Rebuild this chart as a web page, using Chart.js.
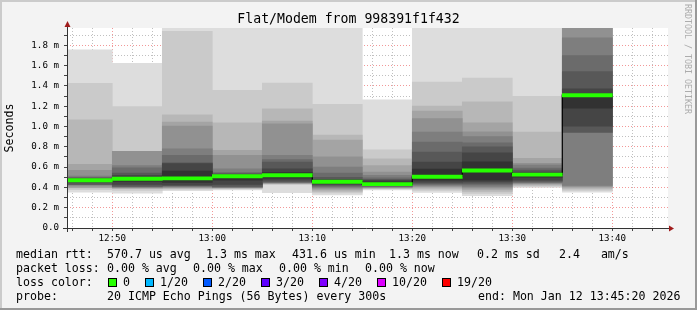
<!DOCTYPE html>
<html lang="en">
<head>
<meta charset="UTF-8">
<title>Flat/Modem from 998391f1f432</title>
<script src="https://cdn.jsdelivr.net/npm/chart.js@4"></script>
<style>
  body { margin: 0; background: #f3f3f3; }
  #wrap { position: relative; width: 697px; height: 310px; font-family: 'DejaVu Sans Mono', monospace; color: #000; }
  #wrap canvas { position: absolute; left: 0; top: 0; }
  #title { position: absolute; left: 0; top: 11px; width: 697px; text-align: center; font-size: 13.2px; line-height: 16px; white-space: pre; }
  #mark { position: absolute; left: 683px; top: 4px; writing-mode: vertical-rl; font-size: 8.3px; color: #acacac; white-space: pre; }
  .t { position: absolute; white-space: pre; font-size: 11.6px; line-height: 14px; }
  .box { position: absolute; top: 278px; width: 7px; height: 7px; border: 1px solid #000; }
</style>
</head>
<body>
<div id="wrap">
  <canvas id="chart" width="697" height="310"></canvas>
  <div id="title">Flat/Modem from 998391f1f432</div>
  <div id="mark">RRDTOOL / TOBI OETIKER</div>

  <div class="t" style="left:16px;top:247px">median rtt:</div>
  <div class="t" style="left:107px;top:247px">570.7 us avg</div>
  <div class="t" style="left:206px;top:247px">1.3 ms max</div>
  <div class="t" style="left:292px;top:247px">431.6 us min</div>
  <div class="t" style="left:389px;top:247px">1.3 ms now</div>
  <div class="t" style="left:477px;top:247px">0.2 ms sd</div>
  <div class="t" style="left:559px;top:247px">2.4   am/s</div>

  <div class="t" style="left:16px;top:261px">packet loss:</div>
  <div class="t" style="left:107px;top:261px">0.00 % avg</div>
  <div class="t" style="left:193px;top:261px">0.00 % max</div>
  <div class="t" style="left:279px;top:261px">0.00 % min</div>
  <div class="t" style="left:365px;top:261px">0.00 % now</div>

  <div class="t" style="left:16px;top:275px">loss color:</div>
  <div id="lossLegend"></div>

  <div class="t" style="left:16px;top:289px">probe:</div>
  <div class="t" style="left:107px;top:289px">20 ICMP Echo Pings (56 Bytes) every 300s</div>
  <div class="t" style="left:478px;top:289px">end: Mon Jan 12 13:45:20 2026</div>
</div>

<script>
// 5 minute steps, start time of each step
const stepStart = ['12:45', '12:50', '12:55', '13:00', '13:05', '13:10', '13:15', '13:20', '13:25', '13:30', '13:35'];

// 20 sorted ping rtts per step (ms)
const pingsMs = [
  [0.354, 0.377, 0.395, 0.397, 0.413, 0.425, 0.428, 0.430, 0.452, 0.462, 0.478, 0.485, 0.492, 0.500, 0.511, 0.567, 0.626, 1.066, 1.426, 1.754],
  [0.344, 0.370, 0.387, 0.392, 0.397, 0.402, 0.407, 0.413, 0.430, 0.460, 0.498, 0.518, 0.541, 0.593, 0.616, 0.754, 0.755, 0.756, 1.197, 1.623],
  [0.368, 0.380, 0.390, 0.395, 0.400, 0.410, 0.413, 0.418, 0.425, 0.450, 0.560, 0.635, 0.643, 0.715, 0.780, 1.003, 1.043, 1.115, 1.938, 1.990],
  [0.375, 0.385, 0.390, 0.395, 0.397, 0.400, 0.405, 0.410, 0.430, 0.470, 0.520, 0.527, 0.535, 0.545, 0.584, 0.715, 0.764, 1.036, 1.357, 1.990],
  [0.347, 0.430, 0.434, 0.438, 0.442, 0.450, 0.452, 0.455, 0.470, 0.490, 0.545, 0.584, 0.649, 0.675, 0.715, 1.026, 1.052, 1.174, 1.427, 1.990],
  [0.325, 0.345, 0.360, 0.375, 0.390, 0.400, 0.410, 0.420, 0.430, 0.440, 0.470, 0.480, 0.500, 0.540, 0.600, 0.700, 0.866, 0.915, 1.218, 1.990],
  [0.375, 0.385, 0.390, 0.395, 0.400, 0.405, 0.410, 0.415, 0.420, 0.425, 0.455, 0.470, 0.479, 0.495, 0.520, 0.551, 0.616, 0.682, 0.770, 1.262],
  [0.350, 0.370, 0.385, 0.400, 0.410, 0.420, 0.430, 0.440, 0.452, 0.470, 0.580, 0.649, 0.748, 0.846, 0.944, 1.079, 1.151, 1.200, 1.437, 1.990],
  [0.318, 0.340, 0.360, 0.380, 0.395, 0.410, 0.425, 0.440, 0.455, 0.472, 0.652, 0.740, 0.800, 0.840, 0.900, 0.947, 1.035, 1.242, 1.477, 1.990],
  [0.400, 0.410, 0.420, 0.430, 0.440, 0.445, 0.450, 0.460, 0.470, 0.500, 0.535, 0.550, 0.570, 0.590, 0.620, 0.636, 0.686, 0.944, 1.298, 1.990],
  [0.354, 0.370, 0.385, 0.400, 0.410, 0.420, 0.940, 0.944, 1.003, 1.180, 1.320, 1.370, 1.541, 1.698, 1.872, 2.000, 2.050, 2.100, 2.200, 2.300]
];

// median rtt per step (ms), all with 0 loss
const medianMs = [0.470, 0.485, 0.489, 0.510, 0.520, 0.455, 0.432, 0.505, 0.567, 0.526, 1.308];

// axis labels
const yMajor = [0, 0.2, 0.4, 0.6, 0.8, 1.0, 1.2, 1.4, 1.6, 1.8];
const yLabels = ['0.0', '0.2 m', '0.4 m', '0.6 m', '0.8 m', '1.0 m', '1.2 m', '1.4 m', '1.6 m', '1.8 m'];
const xLabels = ['12:50', '13:00', '13:10', '13:20', '13:30', '13:40'];

// loss legend
const lossLabels = ['0', '1/20', '2/20', '3/20', '4/20', '10/20', '19/20'];
const lossColors = ['#26ff00', '#00b8ff', '#0059ff', '#5e00ff', '#7e00ff', '#dd00ff', '#ff0000'];

// smoke shades, outer pair -> inner pair
const greys = ['#dddddd', '#cacaca', '#b7b7b7', '#a4a4a4', '#919191', '#7e7e7e', '#6b6b6b', '#585858', '#454545', '#323232'];
const bandHalf = 0.016; // half height of the median band

function toMin(s) {
    const p = s.split(':');
    return (Number(p[0]) - 12) * 60 + Number(p[1]);
}
const centers = stepStart.map(s => toMin(s) + 2.5);

const xMajor = xLabels.map(toMin);
const xTicks = [];
for (let t = 46; t <= 104; t += 2) xTicks.push(t);
const yTicks = [];
yMajor.forEach(v => { yTicks.push(v); yTicks.push(v + 0.1); });

function isMajor(list, v) {
    return list.some(m => Math.abs(m - v) < 1e-6);
}

// loss legend boxes
let lx = 108;
const lossDiv = document.getElementById('lossLegend');
lossLabels.forEach((lab, i) => {
    const b = document.createElement('div');
    b.className = 'box';
    b.style.left = lx + 'px';
    b.style.background = lossColors[i];
    lossDiv.appendChild(b);
    const t = document.createElement('div');
    t.className = 't';
    t.style.left = (lx + 15) + 'px';
    t.style.top = '275px';
    t.textContent = lab;
    lossDiv.appendChild(t);
    lx += 15 + lab.length * 7 + 15;
});

// all bars share one stack slot so they overlap, y is not stacked
const barBase = {
    type: 'bar',
    borderWidth: 0,
    stack: 'smoke',
    barThickness: 'flex',
    barPercentage: 1,
    categoryPercentage: 1
};

const datasets = [];
for (let i = 0; i < 10; i++) {
    datasets.push(Object.assign({}, barBase, {
        data: centers.map((x, k) => ({x: x, y: [pingsMs[k][i], pingsMs[k][19 - i]]})),
        backgroundColor: greys[i],
        order: 100 - i
    }));
}
datasets.push({
    type: 'line',
    data: centers.map((x, k) => ({x: x, y: medianMs[k]})),
    borderColor: '#000000',
    borderWidth: 1.2,
    stepped: 'middle',
    pointRadius: 0,
    fill: false,
    order: 2
});
datasets.push(Object.assign({}, barBase, {
    data: centers.map((x, k) => ({x: x, y: [medianMs[k] - bandHalf, medianMs[k] + bandHalf]})),
    backgroundColor: lossColors[0],
    order: 1
}));

const mono = 'DejaVu Sans Mono';
const gridRed = 'rgba(230, 50, 50, 0.5)';
const gridGrey = 'rgba(140, 140, 140, 0.55)';

function gridColor(list) {
    return c => (c.tick && isMajor(list, c.tick.value)) ? gridRed : gridGrey;
}

const frame = {
    id: 'frame',
    beforeDraw(chart) {
        const {ctx, chartArea: a, width, height} = chart;
        ctx.save();
        ctx.fillStyle = '#f3f3f3';
        ctx.fillRect(0, 0, width, height);
        ctx.fillStyle = '#cbcbcb';
        ctx.fillRect(0, 0, width, 2);
        ctx.fillRect(0, 0, 2, height);
        ctx.fillStyle = '#999999';
        ctx.fillRect(0, height - 2, width, 2);
        ctx.fillRect(width - 2, 0, 2, height);
        ctx.fillStyle = '#ffffff';
        ctx.fillRect(a.left, a.top, a.right - a.left, a.bottom - a.top);
        ctx.restore();
    },
    afterDraw(chart) {
        const {ctx, chartArea: a} = chart;
        ctx.save();
        ctx.strokeStyle = '#333';
        ctx.lineWidth = 1;
        ctx.beginPath();
        ctx.moveTo(a.left - 4, a.bottom + 0.5);
        ctx.lineTo(a.right + 2, a.bottom + 0.5);
        ctx.moveTo(a.left + 0.5, a.bottom + 4);
        ctx.lineTo(a.left + 0.5, a.top - 2);
        ctx.stroke();
        ctx.fillStyle = '#a01c1c';
        ctx.beginPath();
        ctx.moveTo(a.right + 1, a.bottom - 2.5);
        ctx.lineTo(a.right + 1, a.bottom + 3.5);
        ctx.lineTo(a.right + 6, a.bottom + 0.5);
        ctx.closePath();
        ctx.fill();
        ctx.beginPath();
        ctx.moveTo(a.left - 2.5, a.top - 1);
        ctx.lineTo(a.left + 3.5, a.top - 1);
        ctx.lineTo(a.left + 0.5, a.top - 7);
        ctx.closePath();
        ctx.fill();
        ctx.restore();
    }
};

new Chart(document.getElementById('chart'), {
    type: 'bar',
    data: {datasets: datasets},
    options: {
        responsive: false,
        animation: false,
        layout: {padding: {left: 0, right: 29, top: 28, bottom: 62}},
        plugins: {legend: {display: false}, tooltip: {enabled: false}},
        scales: {
            x: {
                type: 'linear',
                min: 45.47,
                max: 105.57,
                offset: false,
                z: 1,
                afterBuildTicks: s => { s.ticks = xTicks.map(v => ({value: v})); },
                afterFit: s => { s.height = 20; },
                grid: {
                    offset: false,
                    color: gridColor(xMajor),
                    tickLength: 3,
                    tickColor: '#444'
                },
                border: {display: false, dash: [1, 2]},
                ticks: {
                    autoSkip: false,
                    maxRotation: 0,
                    padding: 2,
                    color: '#000',
                    font: {family: mono, size: 9.2},
                    callback: v => {
                        const i = xMajor.findIndex(m => Math.abs(m - v) < 1e-6);
                        return i >= 0 ? xLabels[i] : '';
                    }
                }
            },
            y: {
                min: 0,
                max: 1.97,
                stacked: false,
                z: 1,
                afterBuildTicks: s => { s.ticks = yTicks.map(v => ({value: v})); },
                afterFit: s => { s.width = 67; },
                grid: {
                    color: gridColor(yMajor),
                    tickLength: 3,
                    tickColor: '#444'
                },
                border: {display: false, dash: [1, 2]},
                ticks: {
                    autoSkip: false,
                    padding: 5,
                    color: '#000',
                    font: {family: mono, size: 9.2},
                    callback: v => {
                        const i = yMajor.findIndex(m => Math.abs(m - v) < 1e-6);
                        return i >= 0 ? yLabels[i] : '';
                    }
                },
                title: {
                    display: true,
                    text: 'Seconds',
                    color: '#000',
                    font: {family: mono, size: 11.6},
                    padding: {top: 3, bottom: 0}
                }
            }
        }
    },
    plugins: [frame]
});
</script>
</body>
</html>
